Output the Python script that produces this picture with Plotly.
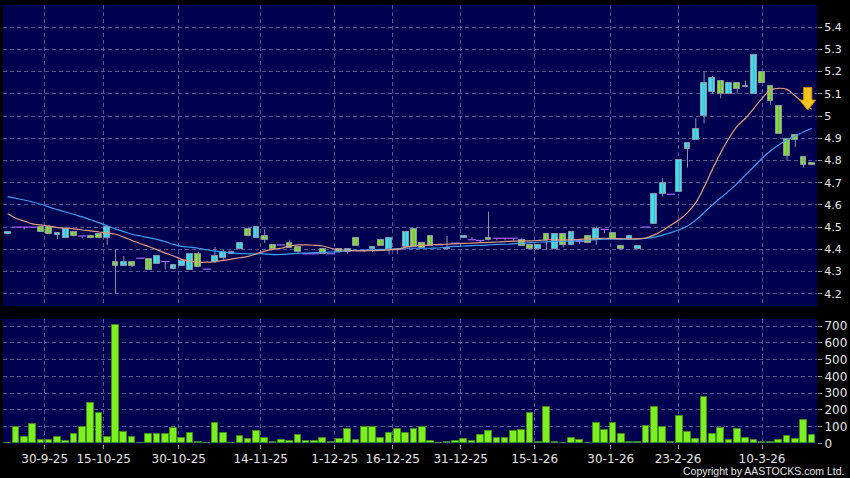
import plotly.graph_objects as go

# ---------------- data ----------------
opens = [4.467, 4.50, 4.50, 4.50, 4.50, 4.50, 4.465, 4.45, 4.477, 4.46,
         4.458, 4.468, 4.45, 4.345, 4.327, 4.345, 4.36, 4.357, 4.336, 4.345,
         4.311, 4.327, 4.309, 4.378, 4.311, 4.345, 4.36, 4.38, 4.40, 4.49,
         4.45, 4.461, 4.419, 4.42, 4.428, 4.41, 4.38, 4.38, 4.40, 4.38,
         4.40, 4.387, 4.45, 4.395, 4.40, 4.443, 4.40, 4.40, 4.41, 4.49,
         4.428, 4.461, 4.42, 4.40, 4.428, 4.45, 4.443, 4.44, 4.452, 4.45,
         4.45, 4.45, 4.44, 4.42, 4.40, 4.468, 4.40, 4.468, 4.42, 4.435,
         4.458, 4.447, 4.49, 4.475, 4.417, 4.447, 4.40, 4.50, 4.515, 4.648,
         4.648, 4.657, 4.85, 4.892, 5.00, 5.11, 5.159, 5.10, 5.15, 5.13,
         5.10, 5.20, 5.136, 5.046, 4.897, 4.915, 4.817, 4.787]
highs = [4.476, 4.50, 4.50, 4.50, 4.50, 4.51, 4.475, 4.49, 4.477, 4.46,
         4.458, 4.468, 4.50, 4.40, 4.37, 4.345, 4.36, 4.357, 4.371, 4.345,
         4.335, 4.347, 4.378, 4.39, 4.311, 4.41, 4.40, 4.386, 4.428, 4.49,
         4.50, 4.49, 4.419, 4.42, 4.443, 4.41, 4.38, 4.38, 4.40, 4.38,
         4.40, 4.40, 4.45, 4.395, 4.41, 4.443, 4.45, 4.40, 4.477, 4.49,
         4.428, 4.461, 4.42, 4.46, 4.428, 4.461, 4.455, 4.44, 4.57, 4.45,
         4.45, 4.45, 4.45, 4.42, 4.42, 4.468, 4.468, 4.468, 4.48, 4.445,
         4.458, 4.502, 4.49, 4.475, 4.417, 4.458, 4.417, 4.50, 4.648, 4.72,
         4.648, 4.80, 4.877, 4.99, 5.20, 5.18, 5.159, 5.15, 5.15, 5.16,
         5.277, 5.20, 5.136, 5.046, 4.897, 4.915, 4.817, 4.787]
lows = [4.467, 4.50, 4.49, 4.50, 4.478, 4.468, 4.447, 4.45, 4.458, 4.45,
        4.45, 4.45, 4.42, 4.20, 4.327, 4.32, 4.36, 4.308, 4.336, 4.31,
        4.311, 4.327, 4.309, 4.32, 4.311, 4.338, 4.35, 4.38, 4.40, 4.458,
        4.45, 4.428, 4.40, 4.42, 4.408, 4.386, 4.38, 4.38, 4.38, 4.38,
        4.386, 4.38, 4.417, 4.387, 4.387, 4.417, 4.378, 4.38, 4.41, 4.41,
        4.408, 4.417, 4.42, 4.40, 4.428, 4.45, 4.443, 4.428, 4.44, 4.44,
        4.44, 4.44, 4.417, 4.40, 4.40, 4.398, 4.40, 4.408, 4.42, 4.425,
        4.428, 4.42, 4.475, 4.447, 4.40, 4.447, 4.40, 4.50, 4.515, 4.637,
        4.648, 4.657, 4.768, 4.892, 4.967, 5.10, 5.08, 5.10, 5.10, 5.13,
        5.10, 5.15, 5.05, 4.919, 4.80, 4.86, 4.768, 4.778]
closes = [4.476, 4.50, 4.50, 4.50, 4.478, 4.468, 4.475, 4.49, 4.458, 4.46,
          4.45, 4.45, 4.50, 4.327, 4.345, 4.327, 4.36, 4.308, 4.371, 4.345,
          4.33, 4.347, 4.378, 4.32, 4.311, 4.371, 4.386, 4.386, 4.428, 4.458,
          4.50, 4.441, 4.40, 4.42, 4.408, 4.386, 4.38, 4.38, 4.38, 4.38,
          4.386, 4.40, 4.417, 4.395, 4.41, 4.417, 4.45, 4.40, 4.477, 4.41,
          4.408, 4.417, 4.42, 4.408, 4.428, 4.461, 4.443, 4.44, 4.44, 4.45,
          4.45, 4.45, 4.417, 4.40, 4.42, 4.44, 4.468, 4.42, 4.48, 4.435,
          4.428, 4.49, 4.49, 4.447, 4.40, 4.458, 4.417, 4.50, 4.648, 4.698,
          4.648, 4.80, 4.877, 4.94, 5.151, 5.17, 5.10, 5.15, 5.12, 5.136,
          5.277, 5.15, 5.069, 4.919, 4.82, 4.892, 4.778, 4.778]
volumes = [0, 100, 36, 118, 20, 20, 36, 12, 54, 96,
           240, 182, 36, 705, 70, 38, 2, 56, 54, 54,
           94, 30, 62, 10, 4, 122, 60, 4, 42, 26,
           74, 30, 8, 22, 12, 50, 14, 14, 30, 6,
           24, 86, 20, 96, 96, 34, 60, 84, 62, 84,
           100, 12, 2, 6, 16, 28, 16, 52, 74, 30,
           32, 74, 80, 180, 6, 216, 5, 1, 34, 22,
           2, 124, 80, 120, 54, 8, 8, 104, 214, 100,
           8, 162, 68, 28, 274, 58, 90, 22, 84, 34,
           18, 10, 6, 18, 44, 26, 142, 48]
ma_short = [4.56, 4.54, 4.527, 4.515, 4.51, 4.505, 4.498, 4.496, 4.492, 4.487,
            4.483, 4.478, 4.474, 4.468, 4.455, 4.44, 4.425, 4.413, 4.398, 4.383,
            4.37, 4.355, 4.347, 4.342, 4.342, 4.345, 4.35, 4.356, 4.362, 4.368,
            4.38, 4.392, 4.40, 4.405, 4.415, 4.42, 4.42, 4.418, 4.415, 4.405,
            4.398, 4.395, 4.393, 4.393, 4.394, 4.395, 4.398, 4.40, 4.41, 4.415,
            4.418, 4.42, 4.422, 4.423, 4.425, 4.427, 4.428, 4.43, 4.431, 4.433,
            4.435, 4.437, 4.438, 4.438, 4.44, 4.443, 4.443, 4.443, 4.443, 4.445,
            4.447, 4.448, 4.45, 4.449, 4.448, 4.447, 4.448, 4.452, 4.465, 4.485,
            4.51, 4.533, 4.565, 4.61, 4.68, 4.76, 4.835, 4.90, 4.955, 4.99,
            5.035, 5.08, 5.117, 5.125, 5.12, 5.09, 5.06, 5.03]
ma_long = [4.637, 4.63, 4.622, 4.613, 4.603, 4.59, 4.579, 4.568, 4.557, 4.546,
           4.533, 4.52, 4.506, 4.492, 4.48, 4.468, 4.46, 4.453, 4.445, 4.435,
           4.422, 4.413, 4.41, 4.405, 4.398, 4.392, 4.388, 4.384, 4.381, 4.38,
           4.38, 4.38, 4.376, 4.377, 4.38, 4.382, 4.383, 4.385, 4.386, 4.388,
           4.39, 4.393, 4.395, 4.397, 4.398, 4.40, 4.40, 4.403, 4.405, 4.405,
           4.405, 4.405, 4.406, 4.41, 4.413, 4.415, 4.417, 4.418, 4.42, 4.422,
           4.423, 4.425, 4.428, 4.43, 4.432, 4.434, 4.436, 4.437, 4.438, 4.44,
           4.442, 4.444, 4.446, 4.446, 4.446, 4.446, 4.446, 4.45, 4.455, 4.464,
           4.475, 4.488, 4.505, 4.532, 4.565, 4.600, 4.632, 4.663, 4.697, 4.735,
           4.772, 4.81, 4.843, 4.87, 4.892, 4.91, 4.928, 4.945]

date_labels = ["30-9-25", "15-10-25", "30-10-25", "14-11-25", "1-12-25", "16-12-25",
               "31-12-25", "15-1-26", "30-1-26", "23-2-26", "10-3-26"]
date_positions = [4.46, 11.58, 20.63, 30.52, 39.44, 46.44, 54.64, 63.57, 72.74, 80.86, 90.99]
price_ticks = [4.2, 4.3, 4.4, 4.5, 4.6, 4.7, 4.8, 4.9, 5.0, 5.1, 5.2, 5.3, 5.4]
price_tick_labels = ["4.2", "4.3", "4.4", "4.5", "4.6", "4.7", "4.8", "4.9", "5", "5.1", "5.2", "5.3", "5.4"]
vol_ticks = [0, 100, 200, 300, 400, 500, 600, 700]

# ---------------- build ----------------
idx = list(range(len(closes)))
UP = "#2ee6f2"
DOWN = "#82e22a"
EDGE = "#8c94a8"
GRID = "rgba(105,115,170,0.75)"
TXT = "#e6e6e6"

fig = go.Figure()

# wicks
wx, wy = [], []
for i in idx:
    wx += [i, i, None]
    wy += [lows[i], highs[i], None]
fig.add_trace(go.Scatter(x=wx, y=wy, mode="lines", line=dict(color=EDGE, width=1),
                         hoverinfo="skip", showlegend=False, xaxis="x", yaxis="y"))

# bodies
for up in (True, False):
    bx, bb, bh = [], [], []
    for i in idx:
        o, c = opens[i], closes[i]
        if o == c:
            continue
        if (c > o) == up:
            bx.append(i)
            bb.append(min(o, c))
            bh.append(abs(c - o))
    fig.add_trace(go.Bar(x=bx, y=bh, base=bb, width=0.7,
                         marker=dict(color=UP if up else DOWN, line=dict(color=EDGE, width=1)),
                         showlegend=False, xaxis="x", yaxis="y"))

# doji
dx = [i for i in idx if opens[i] == closes[i]]
dy = [closes[i] for i in dx]
fig.add_trace(go.Scatter(x=dx, y=dy, mode="markers",
                         marker=dict(symbol="line-ew-open", size=6, line=dict(color=EDGE, width=1.2)),
                         showlegend=False, xaxis="x", yaxis="y"))

# moving averages
fig.add_trace(go.Scatter(x=idx, y=ma_long, mode="lines", line=dict(color="#3d9ff0", width=1.2),
                         line_shape="spline", showlegend=False, xaxis="x", yaxis="y"))
fig.add_trace(go.Scatter(x=idx, y=ma_short, mode="lines", line=dict(color="#e39c7a", width=1.2),
                         line_shape="spline", showlegend=False, xaxis="x", yaxis="y"))

# volume
fig.add_trace(go.Bar(x=idx, y=volumes, width=0.8,
                     marker=dict(color="#7cf01e", line=dict(color="#3f8f18", width=1)),
                     showlegend=False, xaxis="x2", yaxis="y2"))

xr = [-0.567, 97.62]
common_x = dict(range=xr, tickvals=date_positions, showgrid=True, gridcolor=GRID,
                griddash="4px,3px", gridwidth=1, zeroline=False, showline=False)
fig.update_layout(
    width=850, height=478,
    margin=dict(l=3, r=33, t=5, b=34),
    paper_bgcolor="#000000", plot_bgcolor="#000050",
    barmode="overlay", bargap=0,
    font=dict(family="DejaVu Sans", color=TXT, size=12),
    xaxis=dict(**common_x, anchor="y", showticklabels=False, ticks=""),
    xaxis2=dict(**common_x, anchor="y2", matches="x", ticktext=date_labels,
                ticks="outside", ticklen=4, tickcolor="#9a9a9a",
                tickfont=dict(size=12, color=TXT)),
    yaxis=dict(domain=[0.3144, 1], range=[4.145, 5.5], side="right",
               tickvals=price_ticks, ticktext=price_tick_labels,
               ticks="outside", ticklen=4, tickcolor="#9a9a9a",
               tickfont=dict(size=11, color=TXT),
               showgrid=True, gridcolor=GRID, griddash="4px,3px", zeroline=False),
    yaxis2=dict(domain=[0, 0.2847], range=[-4, 742], side="right",
                tickvals=vol_ticks, ticks="outside", ticklen=4, tickcolor="#9a9a9a",
                tickfont=dict(size=12, color=TXT),
                showgrid=True, gridcolor=GRID, griddash="4px,3px", zeroline=False),
    hovermode=False,
)

# yellow down arrow marker
fig.add_shape(type="path", xref="x", yref="y",
              path="M 96.0 5.129 L 97.0 5.129 L 97.0 5.072 L 97.47 5.072 L 96.5 5.027 L 95.53 5.072 L 96.0 5.072 Z",
              fillcolor="#f7c41f", line=dict(color="#c98a00", width=1))

fig.add_annotation(text="Copyright by AASTOCKS.com Ltd.", xref="paper", yref="paper",
                   x=1.034, y=-0.0615, xanchor="right", yanchor="middle", showarrow=False,
                   borderpad=0,
                   font=dict(size=10.5, color=TXT, family="Liberation Sans"))

fig.write_html("out.html", config={"displayModeBar": False},
               post_script="document.body.style.margin='0';document.body.style.background='#000';")
